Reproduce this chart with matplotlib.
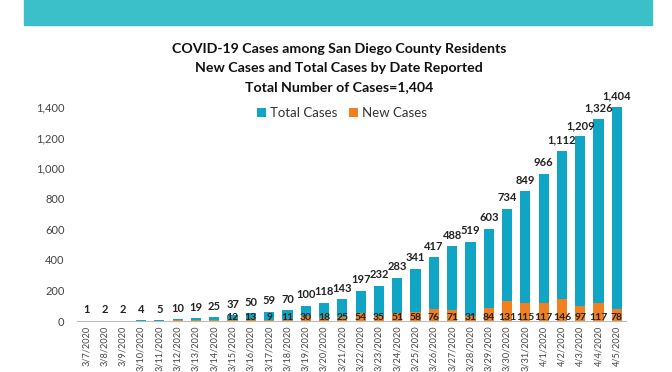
import matplotlib
matplotlib.use("Agg")
import matplotlib.pyplot as plt
from matplotlib.patches import Rectangle

dates = ["3/7/2020", "3/8/2020", "3/9/2020", "3/10/2020", "3/11/2020", "3/12/2020",
         "3/13/2020", "3/14/2020", "3/15/2020", "3/16/2020", "3/17/2020", "3/18/2020",
         "3/19/2020", "3/20/2020", "3/21/2020", "3/22/2020", "3/23/2020", "3/24/2020",
         "3/25/2020", "3/26/2020", "3/27/2020", "3/28/2020", "3/29/2020", "3/30/2020",
         "3/31/2020", "4/1/2020", "4/2/2020", "4/3/2020", "4/4/2020", "4/5/2020"]
total_cases = [1, 2, 2, 4, 5, 10, 19, 25, 37, 50, 59, 70, 100, 118, 143, 197, 232, 283,
               341, 417, 488, 519, 603, 734, 849, 966, 1112, 1209, 1326, 1404]
# first 8 days are not labelled in the source
new_cases = [1, 1, 0, 2, 1, 5, 9, 6, 12, 13, 9, 11, 30, 18, 25, 54, 35, 51, 58, 76,
             71, 31, 84, 131, 115, 117, 146, 97, 117, 78]
first_new_label = 8

teal = "#10a5c5"
orange = "#f3801f"
font = ["Lato", "DejaVu Sans"]
plt.rcParams['font.family'] = font

fig = plt.figure(figsize=(6.72, 3.72), dpi=100)

# teal banner at the top
fig.patches.append(Rectangle((24 / 672, 1 - 25 / 372), 628 / 672, 25 / 372,
                             transform=fig.transFigure, color="#3bbfc9", zorder=0))

title_lines = ["COVID-19 Cases among San Diego County Residents",
               "New Cases and Total Cases by Date Reported",
               "Total Number of Cases=1,404"]
for k, line in enumerate(title_lines):
    fig.text(0.505, 1 - (49 + 19 * k) / 372, line, ha="center", va="center",
             fontsize=10.2, fontweight="bold", color="#111111")

ax = fig.add_axes([77 / 672, 51 / 372, 549 / 672, 229 / 372])
x = list(range(len(dates)))
b1 = ax.bar(x, total_cases, width=0.56, color=teal, label="Total Cases", zorder=2)
b2 = ax.bar(x, new_cases, width=0.56, color=orange, label="New Cases", zorder=3)

for i, v in enumerate(total_cases):
    ax.annotate(f"{v:,}", (i, v), xytext=(0, 4), textcoords="offset points",
                ha="center", va="bottom", fontsize=8, fontweight="bold", color="#222222")
for i, v in enumerate(new_cases):
    if i < first_new_label:
        continue
    ax.annotate(f"{v:,}", (i, 0), xytext=(0, 2.5), textcoords="offset points",
                ha="center", va="center", fontsize=7.5, fontweight="bold", color="#222222",
                zorder=4)

ax.set_xlim(-0.5, len(dates) - 0.5)
ax.set_ylim(0, 1500)
ax.set_yticks(range(0, 1401, 200))
ax.set_yticklabels([f"{t:,}" for t in range(0, 1401, 200)])
ax.set_xticks(x)
ax.set_xticklabels(dates, rotation=90)
ax.tick_params(axis="y", length=0, pad=9, labelsize=8, labelcolor="#444444")
ax.tick_params(axis="x", length=0, pad=3.5, labelsize=6.6, labelcolor="#444444")
for s in ["top", "right", "left"]:
    ax.spines[s].set_visible(False)
ax.spines["bottom"].set_color("#bbbbbb")
ax.spines["bottom"].set_zorder(5)

fig.legend(handles=[b1, b2], loc="center", bbox_to_anchor=(342 / 672, 1 - 113 / 372),
           ncol=2, frameon=False, fontsize=9.5, handlelength=0.7, handleheight=0.7,
           handletextpad=0.3, columnspacing=0.9, labelcolor="#333333")

fig.savefig("out.png", dpi=100)
